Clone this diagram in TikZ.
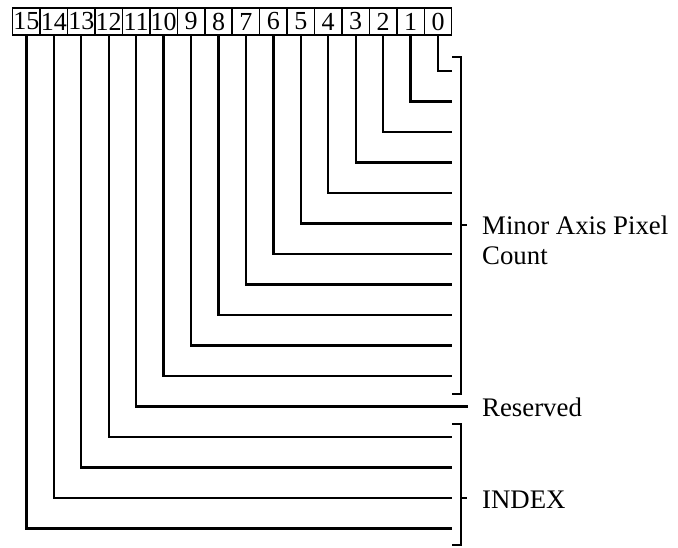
\documentclass[tikz,border=0pt]{standalone}
\usepackage{fontspec}
\setmainfont{Liberation Serif}

\tikzset{
	bitbox/.style={draw, line width=1.5pt, minimum width=27.44pt, minimum height=27pt, inner sep=0pt, font=\fontsize{26}{26}\selectfont},
	wire/.style={line width=2.3pt},
	brace/.style={line width=2pt},
	lbl/.style={anchor=base west, inner sep=0pt, font=\fontsize{26.8}{30}\selectfont}
}

\begin{document}
\begin{tikzpicture}[x=1pt, y=-1pt]
			\useasboundingbox (0,0) rectangle (678,548);
			
			\node[bitbox] (b15) at (26.4,21.5) {15};
			\node[bitbox] (b14) at (53.8,21.5) {14};
			\node[bitbox] (b13) at (81.3,21.5) {13};
			\node[bitbox] (b12) at (108.7,21.5) {12};
			\node[bitbox] (b11) at (136.2,21.5) {11};
			\node[bitbox] (b10) at (163.6,21.5) {10};
			\node[bitbox] (b9) at (191.0,21.5) {9};
			\node[bitbox] (b8) at (218.5,21.5) {8};
			\node[bitbox] (b7) at (245.9,21.5) {7};
			\node[bitbox] (b6) at (273.4,21.5) {6};
			\node[bitbox] (b5) at (300.8,21.5) {5};
			\node[bitbox] (b4) at (328.2,21.5) {4};
			\node[bitbox] (b3) at (355.7,21.5) {3};
			\node[bitbox] (b2) at (383.1,21.5) {2};
			\node[bitbox] (b1) at (410.6,21.5) {1};
			\node[bitbox] (b0) at (438.0,21.5) {0};
			
			\coordinate (e0) at (452,71);
			\coordinate (e1) at (452,101.5);
			\coordinate (e2) at (452,132);
			\coordinate (e3) at (452,162.5);
			\coordinate (e4) at (452,193);
			\coordinate (e5) at (452,223.5);
			\coordinate (e6) at (452,254);
			\coordinate (e7) at (452,284.5);
			\coordinate (e8) at (452,315);
			\coordinate (e9) at (452,345.5);
			\coordinate (e10) at (452,376);
			\coordinate (e11) at (468,406.5);
			\coordinate (e12) at (452,437);
			\coordinate (e13) at (452,467.5);
			\coordinate (e14) at (452,498);
			\coordinate (e15) at (452,528.5);
			
			\draw[wire] (b0.south) |- (e0);
			\draw[wire] (b1.south) |- (e1);
			\draw[wire] (b2.south) |- (e2);
			\draw[wire] (b3.south) |- (e3);
			\draw[wire] (b4.south) |- (e4);
			\draw[wire] (b5.south) |- (e5);
			\draw[wire] (b6.south) |- (e6);
			\draw[wire] (b7.south) |- (e7);
			\draw[wire] (b8.south) |- (e8);
			\draw[wire] (b9.south) |- (e9);
			\draw[wire] (b10.south) |- (e10);
			\draw[wire] (b11.south) |- (e11);
			\draw[wire] (b12.south) |- (e12);
			\draw[wire] (b13.south) |- (e13);
			\draw[wire] (b14.south) |- (e14);
			\draw[wire] (b15.south) |- (e15);
			
			% brackets
			\coordinate (mtop) at (452,57);
			\coordinate (mbot) at (452,394);
			\coordinate (mtick) at (461,225.5);
			\coordinate (itop) at (452,424);
			\coordinate (ibot) at (452,545);
			\coordinate (itick) at (461,498);
			
			\draw[brace] (mtop) -- ++(9,0) |- (mbot);
			\draw[brace] (mtick) -- ++(6,0);
			\draw[brace] (itop) -- ++(9,0) |- (ibot);
			\draw[brace] (itick) -- ++(6,0);
			
			\node[lbl] (minor) at (482,235) {Minor Axis Pixel};
			\node[lbl] (count) at (482,265) {Count};
			\node[lbl] (reserved) at (482,416) {Reserved};
			\node[lbl] (index) at (482,508) {INDEX};
			
\end{tikzpicture}
\end{document}
